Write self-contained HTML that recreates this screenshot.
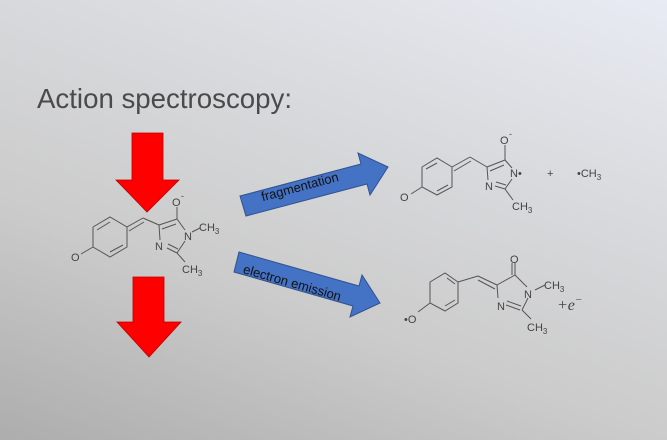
<!DOCTYPE html>
<html><head><meta charset="utf-8"><style>
html,body{margin:0;padding:0}
body{width:667px;height:440px;overflow:hidden;background:linear-gradient(200deg,#e8ebf3 0%,#d8d9dc 35%,#cbcbcb 65%,#adadad 100%);}
svg{position:absolute;left:0;top:0}
</style></head><body>
<svg width="667" height="440" viewBox="0 0 667 440" font-family="Liberation Sans, sans-serif">
<text x="37" y="108" font-size="28" fill="#4a4a4a" textLength="255" lengthAdjust="spacingAndGlyphs">Action spectroscopy:</text>
<polygon points="132,133 163,133 163,180 179,180 147,212 116,180 132,180" fill="#ff0000" stroke="#b00" stroke-width="0.8"/>
<polygon points="133,277 164,277 164,322 181,322 149,357 117,322 133,322" fill="#ff0000" stroke="#b00" stroke-width="0.8"/>
<polygon points="240,196 361,164 358,153 388,167 370,195 367,184 246,216" fill="#4472c4" stroke="#2f528f" stroke-width="1"/>
<text x="0" y="0" font-size="13" fill="#111" transform="translate(301,191) rotate(-15)" text-anchor="middle">fragmentation</text>
<polygon points="239,252 359,286 362,275 380,303 350,317 353,306 234,272" fill="#4472c4" stroke="#2f528f" stroke-width="1"/>
<text x="0" y="0" font-size="13" fill="#111" transform="translate(291,287) rotate(16)" text-anchor="middle">electron emission</text>
<g stroke="#555" stroke-width="1" fill="none">
<polyline points="93,227 110,217 127,227 127,247 110,257 93,247 93,227"/>
<line x1="97" y1="230" x2="110" y2="222"/><line x1="123" y1="245" x2="110" y2="252"/>
<line x1="93" y1="247" x2="81" y2="254"/>
<line x1="127" y1="227" x2="143" y2="218"/><line x1="129" y1="231" x2="144" y2="222"/>
<line x1="143" y1="218" x2="159" y2="225"/>
<line x1="159" y1="225" x2="177" y2="219"/><line x1="162" y1="229" x2="176" y2="224"/>
<line x1="177" y1="219" x2="177" y2="207"/>
<line x1="177" y1="219" x2="185" y2="230"/>
<line x1="159" y1="225" x2="160" y2="240"/>
<line x1="167" y1="248" x2="177" y2="253"/><line x1="168" y1="244" x2="178" y2="249"/>
<line x1="177" y1="253" x2="185" y2="241"/>
<line x1="177" y1="253" x2="185" y2="262"/>
<line x1="192" y1="232" x2="200" y2="228"/>
<polyline points="422,167 437,158 452,167 452,187 437,195 422,187 422,167"/>
<line x1="426" y1="169" x2="437" y2="163"/><line x1="448" y1="185" x2="437" y2="191"/>
<line x1="422" y1="187" x2="411" y2="194"/>
<line x1="452" y1="167" x2="470" y2="157"/><line x1="454" y1="171" x2="471" y2="161"/>
<line x1="470" y1="157" x2="487" y2="167"/>
<line x1="487" y1="167" x2="505" y2="160"/><line x1="490" y1="171" x2="504" y2="165"/>
<line x1="505" y1="160" x2="505" y2="145"/>
<line x1="505" y1="160" x2="512" y2="168"/>
<line x1="487" y1="167" x2="488" y2="180"/>
<line x1="495" y1="186" x2="505" y2="189"/><line x1="496" y1="182" x2="506" y2="185"/>
<line x1="505" y1="189" x2="512" y2="179"/>
<line x1="505" y1="189" x2="513" y2="200"/>
<polyline points="430,282 445,273 458,282 458,303 445,311 430,303 430,282"/>
<line x1="447" y1="278" x2="455" y2="284"/><line x1="455" y1="300" x2="445" y2="306"/>
<line x1="430" y1="303" x2="418" y2="312"/>
<line x1="458" y1="282" x2="478" y2="276"/>
<line x1="478" y1="276" x2="497" y2="285"/><line x1="478" y1="280" x2="495" y2="289"/>
<line x1="497" y1="285" x2="515" y2="275"/>
<line x1="515" y1="275" x2="515" y2="263"/><line x1="512" y1="275" x2="512" y2="263"/>
<line x1="515" y1="275" x2="527" y2="287"/>
<line x1="497" y1="285" x2="498" y2="298"/>
<line x1="506" y1="305" x2="520" y2="310"/><line x1="507" y1="301" x2="521" y2="306"/>
<line x1="522" y1="310" x2="528" y2="298"/>
<line x1="522" y1="310" x2="531" y2="319"/>
<line x1="535" y1="290" x2="545" y2="285"/>
</g>
<g font-size="11" fill="#444">
<text x="71" y="261">O</text>
<text x="172" y="206">O</text><text x="181" y="199" font-size="9">-</text>
<text x="184" y="240">N</text>
<text x="199" y="231">CH<tspan font-size="8" dy="3">3</tspan></text>
<text x="155" y="250">N</text>
<text x="182" y="273">CH<tspan font-size="8" dy="3">3</tspan></text>
<text x="400" y="201">O</text>
<text x="500" y="144">O</text><text x="509" y="137" font-size="9">-</text>
<text x="510" y="177">N•</text>
<text x="485" y="190">N</text>
<text x="512" y="210">CH<tspan font-size="8" dy="3">3</tspan></text>
<text x="547" y="177">+</text>
<text x="577" y="177">•CH<tspan font-size="8" dy="3">3</tspan></text>
<text x="404" y="323">•O</text>
<text x="510" y="263">O</text>
<text x="524" y="298">N</text>
<text x="544" y="289">CH<tspan font-size="8" dy="3">3</tspan></text>
<text x="497" y="310">N</text>
<text x="527" y="331">CH<tspan font-size="8" dy="3">3</tspan></text>
<text x="557" y="310" font-size="16" font-family="Liberation Serif, serif" font-style="italic">+e<tspan font-size="11" dy="-7">−</tspan></text>
</g>
</svg>
</body></html>
